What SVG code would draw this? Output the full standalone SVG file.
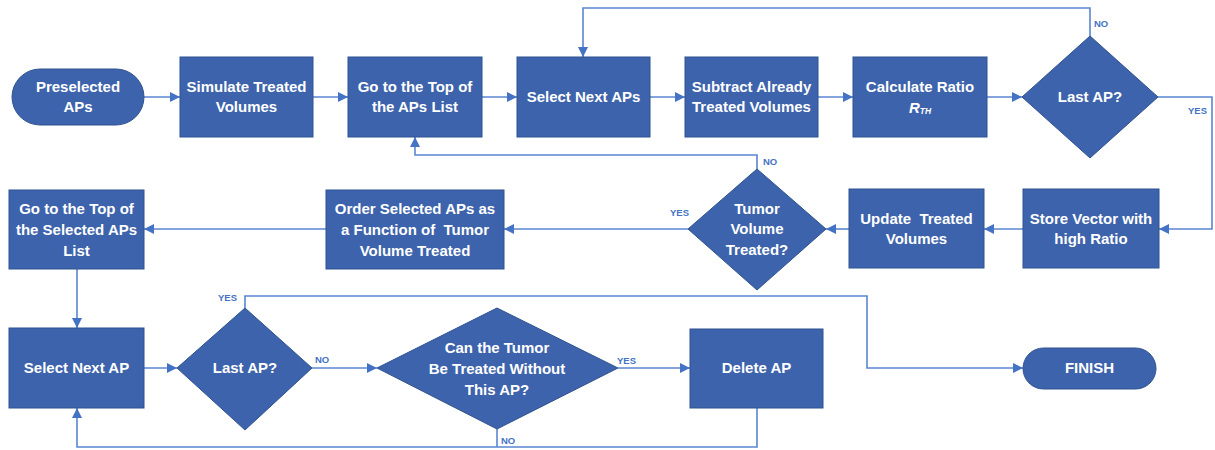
<svg xmlns="http://www.w3.org/2000/svg" width="1215" height="450" viewBox="0 0 1215 450">
<style>
.n{fill:#3D63AC;stroke:#2F528F;stroke-width:1}
.t{font-family:"Liberation Sans",Arial,sans-serif;font-weight:bold;font-size:15px;fill:#fff;text-anchor:middle;white-space:pre}
.c{fill:none;stroke:#5A86D2;stroke-width:1.6}
.l{font-family:"Liberation Sans",Arial,sans-serif;font-weight:bold;font-size:9.5px;fill:#4472C4}
</style>
<defs>
<marker id="a" viewBox="0 0 10 10" refX="10" refY="5" markerWidth="10" markerHeight="10" markerUnits="userSpaceOnUse" orient="auto">
<path d="M0,0 L10,5 L0,10 z" fill="#4472C4"/>
</marker>
</defs>
<rect width="1215" height="450" fill="#fff"/>
<g id="connectors">
<path class="c" d="M144,97 H180" marker-end="url(#a)"/>
<path class="c" d="M313,97 H348" marker-end="url(#a)"/>
<path class="c" d="M482,97 H517" marker-end="url(#a)"/>
<path class="c" d="M650,97 H685" marker-end="url(#a)"/>
<path class="c" d="M818,97 H853" marker-end="url(#a)"/>
<path class="c" d="M987,97 H1022" marker-end="url(#a)"/>
<path class="c" d="M1090,36 V8 H583 V57" marker-end="url(#a)"/>
<path class="c" d="M1158,97 H1212 V229 H1159" marker-end="url(#a)"/>
<path class="c" d="M1023,229 H984" marker-end="url(#a)"/>
<path class="c" d="M849,229 H826" marker-end="url(#a)"/>
<path class="c" d="M688,229 H504" marker-end="url(#a)"/>
<path class="c" d="M757,169 V155 H415 V137" marker-end="url(#a)"/>
<path class="c" d="M326,229 H144" marker-end="url(#a)"/>
<path class="c" d="M77,269 V328" marker-end="url(#a)"/>
<path class="c" d="M144,368 H177" marker-end="url(#a)"/>
<path class="c" d="M312,368 H377" marker-end="url(#a)"/>
<path class="c" d="M618,368 H690" marker-end="url(#a)"/>
<path class="c" d="M245,308 V296 H867 V368 H1023" marker-end="url(#a)"/>
<path class="c" d="M757,408 V447 H77 V408" marker-end="url(#a)"/>
<path class="c" d="M497,429 V447"/>
<text class="l" x="1094" y="27">NO</text>
<text class="l" x="1188" y="114">YES</text>
<text class="l" x="763" y="165">NO</text>
<text class="l" x="670" y="216">YES</text>
<text class="l" x="218" y="301">YES</text>
<text class="l" x="315" y="363">NO</text>
<text class="l" x="617" y="364">YES</text>
<text class="l" x="501" y="444">NO</text>
</g>
<g id="preselected">
<rect class="n" x="12" y="69" width="132" height="56" rx="28"/>
<text class="t" x="78" y="92">Preselected</text>
<text class="t" x="78" y="112">APs</text>
</g>
<g id="simulate">
<rect class="n" x="180" y="57" width="133" height="80"/>
<text class="t" x="246.5" y="92">Simulate Treated</text>
<text class="t" x="246.5" y="112">Volumes</text>
</g>
<g id="gotop">
<rect class="n" x="348" y="57" width="134" height="80"/>
<text class="t" x="415" y="92">Go to the Top of</text>
<text class="t" x="415" y="112">the APs List</text>
</g>
<g id="selectnextaps">
<rect class="n" x="517" y="57" width="133" height="80"/>
<text class="t" x="583.5" y="102">Select Next APs</text>
</g>
<g id="subtract">
<rect class="n" x="685" y="57" width="133" height="80"/>
<text class="t" x="751.5" y="92">Subtract Already</text>
<text class="t" x="751.5" y="112">Treated Volumes</text>
</g>
<g id="calculate">
<rect class="n" x="853" y="57" width="134" height="80"/>
<text class="t" x="920" y="92">Calculate Ratio</text>
<text class="t" x="920" y="113" font-style="italic">R<tspan font-size="8.5" dy="1">TH</tspan></text>
</g>
<g id="lastap1">
<polygon class="n" points="1090,36 1158,97 1090,158 1022,97"/>
<text class="t" x="1090" y="102">Last AP?</text>
</g>
<g id="store">
<rect class="n" x="1023" y="189" width="136" height="79"/>
<text class="t" x="1091" y="224">Store Vector with</text>
<text class="t" x="1091" y="244">high Ratio</text>
</g>
<g id="update">
<rect class="n" x="849" y="189" width="135" height="79"/>
<text class="t" x="916.5" y="224" xml:space="preserve">Update  Treated</text>
<text class="t" x="916.5" y="244">Volumes</text>
</g>
<g id="tumortreated">
<polygon class="n" points="757,169 826,229 757,290 688,229"/>
<text class="t" x="757" y="214">Tumor</text>
<text class="t" x="757" y="234">Volume</text>
<text class="t" x="757" y="255">Treated?</text>
</g>
<g id="order">
<rect class="n" x="326" y="190" width="178" height="79"/>
<text class="t" x="415" y="214">Order Selected APs as</text>
<text class="t" x="415" y="235" xml:space="preserve">a Function of  Tumor</text>
<text class="t" x="415" y="256">Volume Treated</text>
</g>
<g id="gotopselected">
<rect class="n" x="9" y="190" width="135" height="79"/>
<text class="t" x="76.5" y="214">Go to the Top of</text>
<text class="t" x="76.5" y="235">the Selected APs</text>
<text class="t" x="76.5" y="256">List</text>
</g>
<g id="selectnextap">
<rect class="n" x="9" y="328" width="135" height="80"/>
<text class="t" x="76.5" y="373">Select Next AP</text>
</g>
<g id="lastap2">
<polygon class="n" points="245,308 312,368 245,430 177,368"/>
<text class="t" x="245" y="373">Last AP?</text>
</g>
<g id="cantreat">
<polygon class="n" points="497,308 618,368 497,429 377,368"/>
<text class="t" x="497" y="353">Can the Tumor</text>
<text class="t" x="497" y="374">Be Treated Without</text>
<text class="t" x="497" y="395">This AP?</text>
</g>
<g id="deleteap">
<rect class="n" x="690" y="329" width="133" height="79"/>
<text class="t" x="756.5" y="373">Delete AP</text>
</g>
<g id="finish">
<rect class="n" x="1023" y="348" width="133" height="41" rx="20.5"/>
<text class="t" x="1089.5" y="373">FINISH</text>
</g>
</svg>
